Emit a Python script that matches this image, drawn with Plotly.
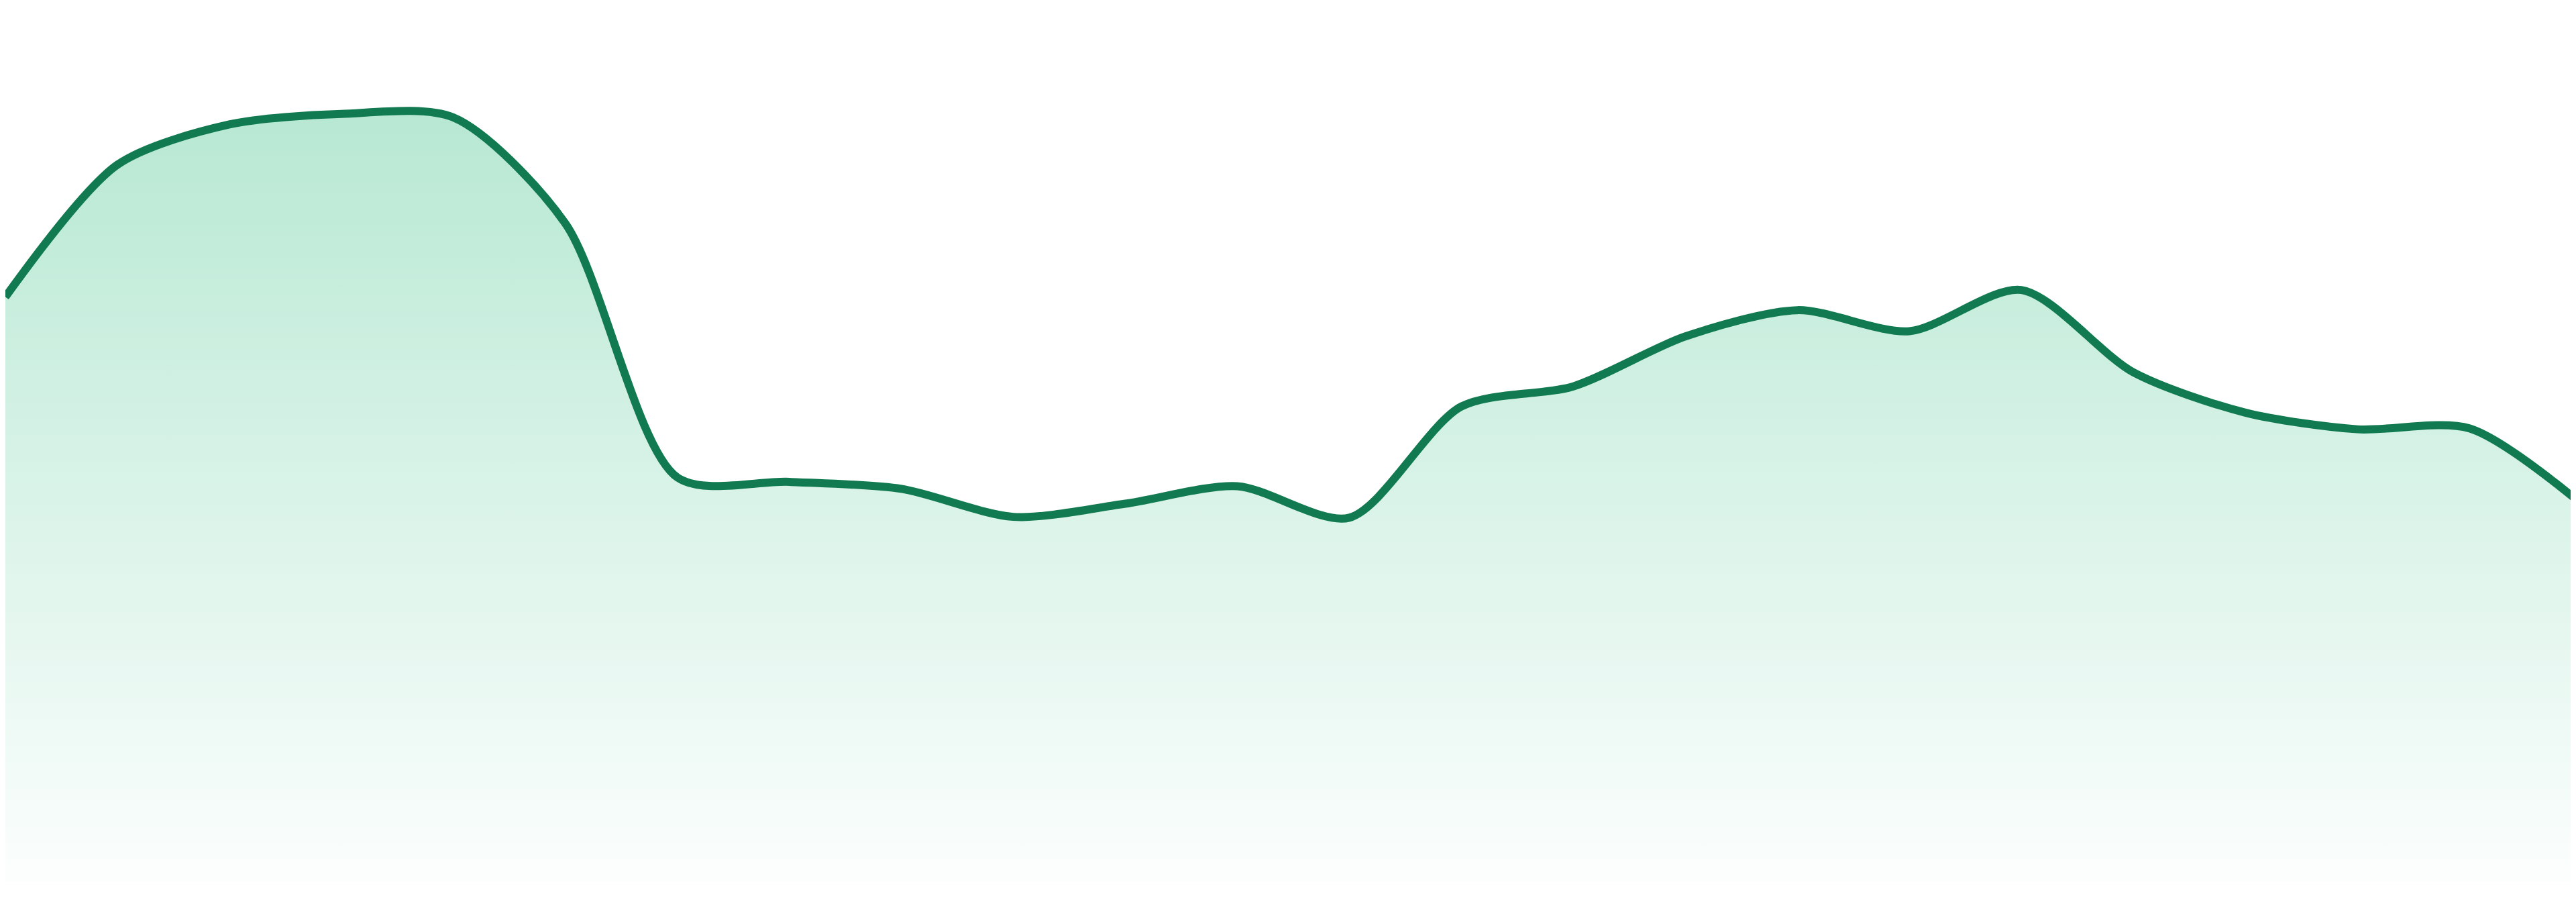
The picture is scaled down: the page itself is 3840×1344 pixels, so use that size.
import plotly.graph_objects as go

# sampled points of the series (no axes shown in the original)
periods = list(range(24))
values = [66.7, 81.8, 86.4, 87.6, 87.2, 75.1, 46.1, 45.6, 44.8, 41.6, 43.1, 45.1,
          41.5, 54.2, 56.5, 62.2, 65.2, 62.8, 67.5, 58.1, 53.5, 51.6, 51.7, 43.1]

line_color = "#117a50"

fig = go.Figure()

# gradient area under the curve
fig.add_trace(go.Scatter(
    x=periods,
    y=values,
    mode="lines",
    line=dict(width=0, shape="spline", smoothing=0.8, simplify=False),
    fill="tozeroy",
    fillgradient=dict(
        type="vertical",
        colorscale=[[0, "rgba(183,232,211,0.05)"], [1, "rgba(183,232,211,1)"]],
    ),
    hoverinfo="skip",
))

# the curve itself
fig.add_trace(go.Scatter(
    x=periods,
    y=values,
    mode="lines",
    line=dict(color=line_color, width=12, shape="spline", smoothing=0.8, simplify=False),
    hoverinfo="skip",
))

fig.update_layout(
    width=3840,
    height=1344,
    margin=dict(l=0, r=0, t=0, b=39),
    paper_bgcolor="white",
    plot_bgcolor="white",
    showlegend=False,
    xaxis=dict(range=[0, 23], visible=False),
    yaxis=dict(range=[0, 100], visible=False),
)

fig.write_html("out.html")
